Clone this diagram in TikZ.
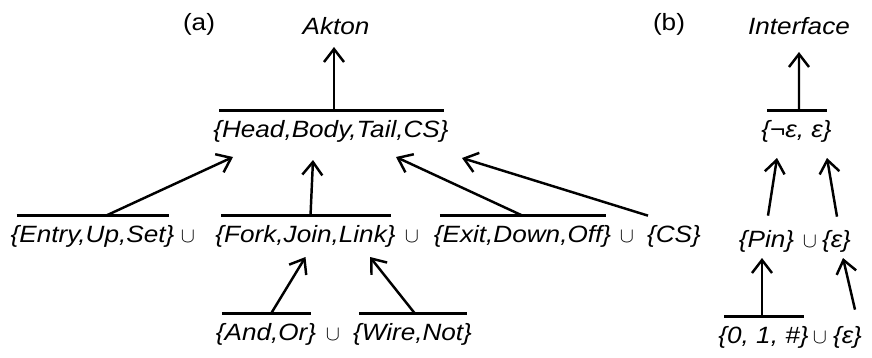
\documentclass[tikz,border=0pt]{standalone}
\usepackage{fontspec}
\setmainfont{Liberation Sans}[FakeStretch=1.11]
\usetikzlibrary{arrows.meta, calc}

\newcommand{\setfont}{\fontsize{13.4}{16}\selectfont}

\tikzset{
    txt/.style={anchor=base, inner sep=1pt, font=\setfont\itshape},
    setnode/.style={txt, text height=13.8pt, text depth=4pt},
    cupnode/.style={anchor=base, inner sep=0pt, font=\fontsize{11.5}{12}\selectfont},
    setbar/.style={line width=1.4pt, shorten <=0.16cm, shorten >=0.14cm},
    arr/.style={line width=1.4pt, -{Straight Barb[length=0.26cm, width=0.4cm]}}
}

\begin{document}
\begin{tikzpicture}[x=0.02cm, y=-0.02cm]
        \useasboundingbox (0,0) rectangle (872,358);
        % Draw part labels
        \node[txt, font=\setfont] (labela) at (199,31) {(a)};
        \node[txt, font=\setfont] (labelb) at (669,31) {(b)};
        % Draw roots
        \node[txt] (akton) at (336,35) {Akton};
        \node[txt] (interface) at (799,35) {Interface};
        % Draw second level
        \node[setnode] (head) at (331,137) {\{Head,Body,Tail,CS\}};
        \node[setnode] (neg) at (796.5,137) {\{¬ε, ε\}};
        % Draw third level (a)
        \node[setnode] (entry) at (92.5,242) {\{Entry,Up,Set\}};
        \node[cupnode] (cupa) at (188,242) {$\cup$};
        \node[setnode] (fork) at (305.5,242) {\{Fork,Join,Link\}};
        \node[cupnode] (cupb) at (412,242) {$\cup$};
        \node[setnode] (exit) at (522.5,242) {\{Exit,Down,Off\}};
        \node[cupnode] (cupc) at (627,242) {$\cup$};
        \node[setnode] (cs) at (674,242) {\{CS\}};
        % Draw third level (b)
        \node[setnode] (pin) at (766.5,247) {\{Pin\}};
        \node[cupnode] (cupd) at (810,247) {$\cup$};
        \node[setnode] (epsa) at (836.5,247) {\{ε\}};
        % Draw fourth level
        \node[setnode] (andor) at (266,340) {\{And,Or\}};
        \node[cupnode] (cupe) at (333,340) {$\cup$};
        \node[setnode] (wire) at (412.5,340) {\{Wire,Not\}};
        \node[setnode] (bits) at (763.5,343) {\{0, 1, \#\}};
        \node[cupnode] (cupf) at (820,343) {$\cup$};
        \node[setnode] (epsb) at (847.5,343) {\{ε\}};
        % Draw bars
        \foreach \n in {head, neg, entry, fork, exit, andor, wire, bits}
            \draw[setbar] (\n.north west) -- (\n.north east);
        % Draw arrows (a)
        \draw[arr] ($(head.north)+(3,0)$) -- ($(akton.base)+(-2,12)$);
        \draw[arr] ($(entry.north)+(13.5,0)$) -- ($(head.base)+(-98,20)$);
        \draw[arr] ($(fork.north)+(5,0)$) -- ($(head.base)+(-18,23)$);
        \draw[arr] (exit.north) -- ($(head.base)+(65,20)$);
        \draw[arr] ($(cs.north)+(-26,0)$) -- ($(head.base)+(131,21)$);
        \draw[arr] ($(andor.north)+(5,0)$) -- ($(fork.base)+(0,15)$);
        \draw[arr] ($(wire.north)+(2.5,0)$) -- ($(fork.base)+(64.5,15)$);
        % Draw arrows (b)
        \draw[arr] ($(neg.north)+(2.5,0)$) -- ($(interface.base)+(0,17)$);
        \draw[arr] ($(pin.north)+(1.5,-5)$) -- ($(neg.base)+(-19.5,21)$);
        \draw[arr] ($(epsa.north)+(0.5,-4)$) -- ($(neg.base)+(30.5,21)$);
        \draw[arr] ($(bits.north)+(-1.5,0)$) -- ($(pin.base)+(-4.5,11)$);
        \draw[arr] ($(epsb.north)+(7.5,-7)$) -- ($(epsa.base)+(6.5,11)$);
    \end{tikzpicture}
\end{document}
